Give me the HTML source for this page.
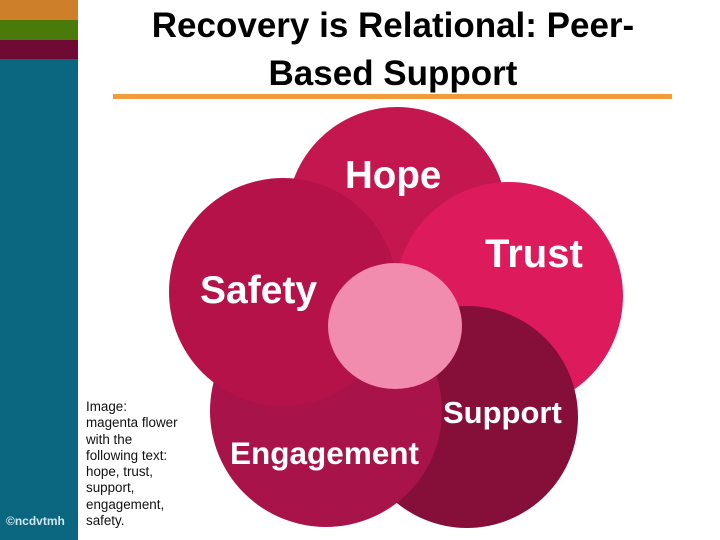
<!DOCTYPE html>
<html><head><style>
body{margin:0;width:720px;height:540px;overflow:hidden;background:#fff;position:relative;font-family:"Liberation Sans",sans-serif}
.b{position:absolute;left:0;width:78px}
.t{position:absolute;left:80px;width:626px;text-align:center;font-weight:bold;font-size:35px;line-height:48px;color:#000}
</style></head><body>
<div class="b" style="top:0;height:20px;background:#cd7f2a"></div>
<div class="b" style="top:20px;height:20px;background:#4a7a0a"></div>
<div class="b" style="top:40px;height:19px;background:#6e0a33"></div>
<div class="b" style="top:59px;height:481px;background:#0b6680"></div>
<div style="position:absolute;left:6px;top:514px;font-size:12px;font-weight:bold;color:#cfe6ef">©ncdvtmh</div>
<div class="t" style="top:2px">Recovery is Relational: Peer-<br>Based Support</div>
<div style="position:absolute;left:113px;top:94px;width:559px;height:5px;background:#f29b3a"></div>
<div style="position:absolute;left:86px;top:399px;font-size:13.4px;line-height:16.3px;color:#111">Image:<br>magenta flower<br>with the<br>following text:<br>hope, trust,<br>support,<br>engagement,<br>safety.</div>
<svg width="720" height="540" style="position:absolute;left:0;top:0">
<circle cx="397" cy="217" r="110" fill="#c4174f"/>
<circle cx="509" cy="296" r="114" fill="#dc1a5c"/>
<circle cx="467" cy="417" r="111" fill="#860f3a"/>
<circle cx="326" cy="411" r="116" fill="#a8134a"/>
<circle cx="283" cy="292" r="114" fill="#b51249"/>
<ellipse cx="395" cy="326" rx="67" ry="63" fill="#f28cae"/>
<g fill="#fff" font-family="Liberation Sans,sans-serif" font-weight="bold">
<text x="345" y="188" font-size="38.5">Hope</text>
<text x="485" y="267" font-size="40">Trust</text>
<text x="200" y="303" font-size="39">Safety</text>
<text x="443" y="423" font-size="31">Support</text>
<text x="230" y="464" font-size="31.5">Engagement</text>
</g>
</svg>
</body></html>
